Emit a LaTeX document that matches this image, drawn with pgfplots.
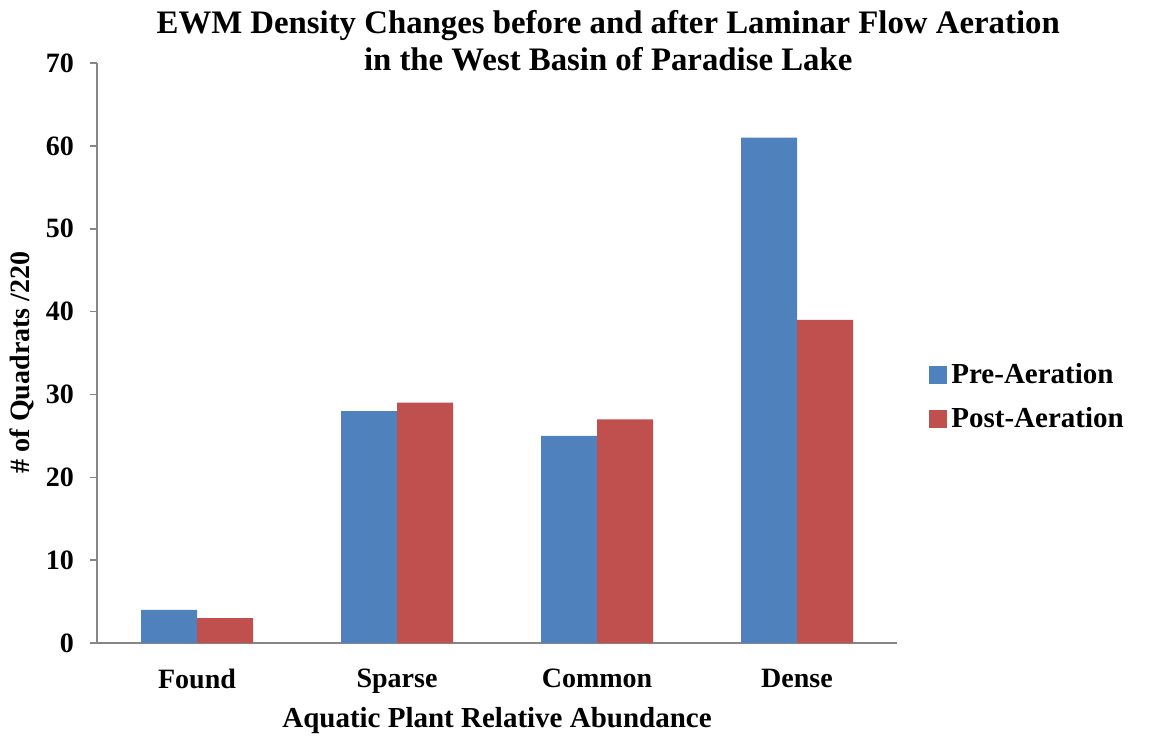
\documentclass[border=0pt]{standalone}
\usepackage{fontspec}
\setmainfont{Liberation Serif}
\usepackage{pgfplots}
\pgfplotsset{compat=1.18}
\definecolor{exblue}{HTML}{4F81BD}
\definecolor{exred}{HTML}{C0504D}
\definecolor{axgray}{HTML}{868686}
\begin{document}
\begin{tikzpicture}[x=1pt,y=1pt]
\useasboundingbox (0,0) rectangle (579.5,368);
\begin{axis}[
  at={(48.5pt,46.5pt)}, anchor=south west,
  scale only axis, width=400pt, height=290pt,
  xmin=-0.5, xmax=3.5, ymin=0, ymax=70,
  ytick distance=10,
  xtick={0,1,2,3}, xticklabels={Found,Sparse,Common,Dense},
  axis x line=bottom, axis y line=left,
  axis line style={draw=axgray, line width=0.8pt, -},
  x axis line style={-}, y axis line style={-},
  major x tick style={draw=none},
  major y tick style={draw=axgray, line width=0.8pt},
  tick align=outside, major tick length=3.5pt,
  /pgf/number format/assume math mode=true,
  tick label style={font=\fontsize{14}{16}\selectfont\bfseries},
  xticklabel style={yshift=-6pt},
  yticklabel style={xshift=-4.5pt},
  ybar=0pt, bar width=28pt,
  xlabel={Aquatic Plant Relative Abundance},
  xlabel style={at={(axis description cs:0.5,-0.133)}, anchor=center, font=\fontsize{14.5}{16}\selectfont\bfseries},
  ylabel={\# of Quadrats /220},
  ylabel style={at={(axis description cs:-0.094,0.484)}, anchor=center, font=\fontsize{14}{16}\selectfont\bfseries},
  title={EWM Density Changes before and after Laminar Flow Aeration\\in the West Basin of Paradise Lake},
  title style={at={(axis description cs:0.639,1.082)}, anchor=north, align=center, font=\fontsize{16.4}{18.5}\selectfont\bfseries},
  legend style={at={(axis description cs:1.040,0.424)}, anchor=west, draw=none, fill=none,
    font=\fontsize{14.5}{16}\selectfont\bfseries, row sep=6.5pt, inner sep=0pt},
  legend cell align=left,
  legend image code/.code={\fill[#1] (0pt,-4.5pt) rectangle (9pt,4.5pt);},
]
\addplot[fill=exblue, draw=none] coordinates {(0,4) (1,28) (2,25) (3,61)};
\addplot[fill=exred, draw=none] coordinates {(0,3) (1,29) (2,27) (3,39)};
\legend{Pre-Aeration, Post-Aeration}
\end{axis}
\end{tikzpicture}
\end{document}
